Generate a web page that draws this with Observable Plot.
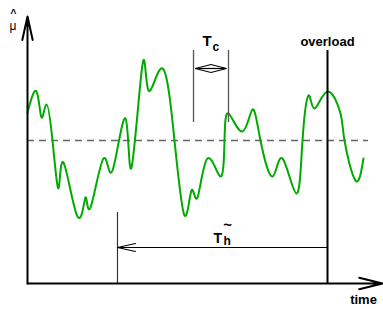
<!DOCTYPE html>
<html><head><meta charset="utf-8">
<script src="https://cdn.jsdelivr.net/npm/d3@7"></script>
<script src="https://cdn.jsdelivr.net/npm/@observablehq/plot@0.6"></script>
<style>body{margin:0;background:#fff}#chart svg{display:block}</style>
</head><body><div id="chart"></div>
<script>
// Fluctuating estimate mu-hat over time (arbitrary units)
const curveTime = [0, 9, 14, 19, 25, 31, 36, 50, 58, 63, 76, 85, 98, 104, 115, 121, 135, 147, 157, 164, 170, 180, 193, 197, 201, 215, 225, 233, 245, 255, 269, 275, 281, 287, 300, 313, 317, 328, 336];
const curveLoad = [171, 192, 166, 179, 143, 95, 121, 67, 86, 76, 125, 113, 165, 116, 219, 193, 215, 143, 68, 93, 86, 125, 107, 143, 170, 152, 174, 143, 107, 125, 90, 143, 188, 175, 192, 170, 143, 103, 125];
const meanLevel = 143, meanEnd = 341;
const timeAxisEnd = 355, muAxisEnd = 267;
const hStart = 90, hTop = 71, hLevel = 36;
const overloadTime = 300, overloadTop = 233;
const cStart = 166, cEnd = 201, cBottom = 161, cTop = 233, cArrowLevel = 215;
const labels = {overload: "overload", time: "time", mu: "μ", hat: "^", T: "T", c: "c", h: "h", tilde: "~"};

const curve = curveTime.map((t, i) => ({t, v: curveLoad[i]}));
const cTip1 = cStart + 2, cTip2 = cEnd - 2, cMid = (cTip1 + cTip2) / 2, cHalf = 4;
const cWings = [
  {x1: cTip1, y1: cArrowLevel, x2: cMid, y2: cArrowLevel + cHalf},
  {x1: cTip1, y1: cArrowLevel, x2: cMid, y2: cArrowLevel - cHalf},
  {x1: cTip2, y1: cArrowLevel, x2: cMid, y2: cArrowLevel + cHalf},
  {x1: cTip2, y1: cArrowLevel, x2: cMid, y2: cArrowLevel - cHalf}
];
const font = "Liberation Sans, Arial, Helvetica, sans-serif";

const chart = Plot.plot({
  width: 383, height: 309, margin: 0,
  x: {domain: [-27, 356], range: [0, 383], axis: null},
  y: {domain: [-26, 283], range: [309, 0], axis: null},
  style: {fontFamily: font, background: "#fff"},
  marks: [
    Plot.ruleY([meanLevel], {x1: 0, x2: meanEnd, stroke: "#666", strokeWidth: 1.6, strokeDasharray: "7,5"}),
    Plot.line(curve, {x: "t", y: "v", stroke: "#00aa00", strokeWidth: 2, curve: "natural"}),
    Plot.ruleX([hStart], {y1: 0, y2: hTop, stroke: "#333", strokeWidth: 1.2}),
    Plot.ruleX([overloadTime], {y1: 0, y2: overloadTop, stroke: "#000", strokeWidth: 2}),
    Plot.ruleX([cStart, cEnd], {y1: cBottom, y2: cTop, stroke: "#555", strokeWidth: 1.3}),
    Plot.arrow([0], {x1: 0, y1: 0, x2: 0, y2: muAxisEnd, stroke: "#000", strokeWidth: 2, headLength: 18, headAngle: 25}),
    Plot.arrow([0], {x1: 0, y1: 0, x2: timeAxisEnd, y2: 0, stroke: "#000", strokeWidth: 2, headLength: 18, headAngle: 28}),
    Plot.arrow([0], {x1: overloadTime, y1: hLevel, x2: hStart, y2: hLevel, stroke: "#000", strokeWidth: 1.2, headLength: 23, headAngle: 25}),
    Plot.ruleY([cArrowLevel], {x1: cTip1, x2: cTip2, stroke: "#000", strokeWidth: 1.2}),
    Plot.link(cWings, {x1: "x1", y1: "y1", x2: "x2", y2: "y2", stroke: "#000", strokeWidth: 1.2}),
    Plot.text([labels.overload], {x: overloadTime, y: 242, text: d => d, fontSize: 13, fontWeight: "bold", fill: "#000"}),
    Plot.text([labels.time], {x: 336, y: -16, text: d => d, fontSize: 13, fontWeight: "bold", fill: "#000"}),
    Plot.text([labels.mu], {x: -14.5, y: 257, text: d => d, fontSize: 12, fill: "#000"}),
    Plot.text([labels.hat], {x: -14, y: 270, text: d => d, fontSize: 10, fontWeight: "bold", fill: "#000"}),
    Plot.text([labels.T], {x: 175, y: 242, text: d => d, fontSize: 15, fontWeight: "bold", textAnchor: "start", fill: "#000"}),
    Plot.text([labels.c], {x: 185, y: 236, text: d => d, fontSize: 12, fontWeight: "bold", textAnchor: "start", fill: "#000"}),
    Plot.text([labels.T], {x: 186, y: 45, text: d => d, fontSize: 14, fontWeight: "bold", textAnchor: "start", fill: "#000"}),
    Plot.text([labels.h], {x: 196, y: 42, text: d => d, fontSize: 12, fontWeight: "bold", textAnchor: "start", fill: "#000"}),
    Plot.text([labels.tilde], {x: 200, y: 58, text: d => d, fontSize: 15, fontWeight: "bold", fill: "#000"})
  ]
});
document.getElementById("chart").appendChild(chart);
</script>
</body></html>
